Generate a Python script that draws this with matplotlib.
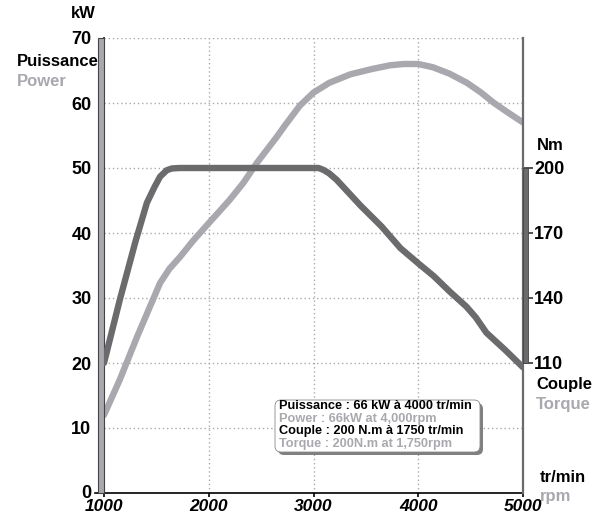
import matplotlib
matplotlib.use("Agg")
import matplotlib.pyplot as plt
from matplotlib.patches import Rectangle, FancyBboxPatch
from matplotlib.transforms import blended_transform_factory, ScaledTranslation

# Engine curves
power_rpm = [1000, 1150, 1315, 1535, 1625, 1725, 1850, 2010, 2100, 2200, 2330,
             2460, 2555, 2650, 2730, 2870, 3000, 3150, 3350, 3550, 3730, 3860,
             4000, 4140, 4300, 4465, 4600, 4715, 4850, 5000]
power_kw = [12, 17.4, 24, 32.3, 34.5, 36.3, 38.8, 41.7, 43.3, 45.1, 47.7,
            50.8, 52.8, 54.8, 56.6, 59.6, 61.6, 63.1, 64.4, 65.2, 65.8, 66,
            66, 65.5, 64.5, 63.1, 61.6, 60.1, 58.6, 57]

torque_rpm = [1000, 1150, 1300, 1410, 1480, 1535, 1600, 1650, 1725, 3050, 3100,
              3150, 3220, 3450, 3650, 3830, 4000, 4150, 4300, 4460, 4550, 4650,
              4830, 5000]
torque_nm = [110, 139, 166, 184, 191, 196, 199, 199.8, 200, 200, 199,
             197.5, 194.6, 182.6, 173, 163, 156, 150, 143, 136, 131, 124,
             116, 108]

rpm_ticks = [1000, 2000, 3000, 4000, 5000]
kw_ticks = [0, 10, 20, 30, 40, 50, 60, 70]
nm_ticks = [110, 140, 170, 200]

legend_lines = [
    ("Puissance : 66 kW à 4000 tr/min", "black"),
    ("Power : 66kW at 4,000rpm", "#a9a8ae"),
    ("Couple : 200 N.m à 1750 tr/min", "black"),
    ("Torque : 200N.m at 1,750rpm", "#a9a8ae"),
]

POWER_C = "#a9a8ae"
TORQUE_C = "#6b6a6d"
FONT = "Liberation Sans"

W, H = 608, 517
fig = plt.figure(figsize=(W / 100, H / 100), dpi=100)
fig.patch.set_facecolor("white")

left, right, bottom, top = 104, 523, 493, 38
ax = fig.add_axes([left / W, 1 - bottom / H, (right - left) / W, (bottom - top) / H])
ax.set_xlim(1000, 5000)
ax.set_ylim(0, 70)

# grid
for y in kw_ticks[1:]:
    ax.axhline(y, color="#aaaaaa", lw=1, ls=(0, (1, 2)), zorder=1)
for x in rpm_ticks[1:-1]:
    ax.axvline(x, color="#aaaaaa", lw=1, ls=(0, (1, 2)), zorder=1)

# torque axis: Nm = 3 * kW + 50
axr = ax.twinx()
axr.set_ylim(50, 260)
axr.set_yticks(nm_ticks)
axr.set_yticklabels([str(v) for v in nm_ticks], fontfamily=FONT,
                    fontweight="bold", fontsize=13)
axr.tick_params(axis="y", direction="out", length=7, width=1.2, pad=1,
                color="#333333")

ax.plot(power_rpm, power_kw, color=POWER_C, lw=4.6, solid_capstyle="round",
        solid_joinstyle="round", zorder=3)
axr.plot(torque_rpm, torque_nm, color=TORQUE_C, lw=4.6, solid_capstyle="round",
         solid_joinstyle="round", zorder=3)

# spines
for a in (ax, axr):
    a.spines["top"].set_visible(False)
    a.patch.set_visible(False)
ax.spines["left"].set_color("black")
ax.spines["left"].set_linewidth(1.2)
ax.spines["bottom"].set_color("black")
ax.spines["bottom"].set_linewidth(1.2)
axr.spines["right"].set_color("#6b6a6d")
axr.spines["right"].set_linewidth(1.6)
for s in ("left", "bottom"):
    axr.spines[s].set_visible(False)
ax.spines["right"].set_visible(False)

ax.set_yticks(kw_ticks)
ax.set_yticklabels([str(v) for v in kw_ticks], fontfamily=FONT,
                   fontweight="bold", fontsize=13)
ax.tick_params(axis="y", length=0, pad=9)
# lift the zero label slightly so it clears the rpm labels
zero_lbl = ax.get_yticklabels()[0]
zero_lbl.set_transform(zero_lbl.get_transform()
                       + ScaledTranslation(0, 2 / 100, fig.dpi_scale_trans))
ax.set_xticks(rpm_ticks)
ax.set_xticklabels([str(v) for v in rpm_ticks], fontfamily=FONT,
                   fontweight="bold", fontstyle="italic", fontsize=12.5)
ax.tick_params(axis="x", length=3, width=1.2, pad=1.5, color="black")

# side bars
tl = blended_transform_factory(ax.transAxes, ax.transData)
ax.add_patch(Rectangle((-0.0145, 0), 0.0135, 70, transform=tl, facecolor=POWER_C,
                       edgecolor="#444444", lw=0.8, clip_on=False, zorder=4))
ax.plot([-0.022, 0], [0, 0], transform=tl, color="black", lw=1.2, clip_on=False)
tr = blended_transform_factory(axr.transAxes, axr.transData)
axr.add_patch(Rectangle((1.0, 110), 0.013, 90, transform=tr, facecolor=TORQUE_C,
                        edgecolor="#444444", lw=0.6, clip_on=False, zorder=4))

# overlay in pixel coordinates for labels and info box
ov = fig.add_axes([0, 0, 1, 1])
ov.set_xlim(0, W)
ov.set_ylim(H, 0)
ov.axis("off")

def label(x, y, s, color="black", size=12, ha="left"):
    ov.text(x, y, s, color=color, fontsize=size, fontweight="bold",
            fontfamily=FONT, ha=ha, va="center")

label(83, 13, "kW", ha="center")
label(17, 62, "Puissance")
label(17, 81, "Power", color=POWER_C)
label(537, 146, "Nm")
label(536, 384, "Couple")
label(536, 405, "Torque", color=POWER_C)
label(540, 477, "tr/min")
label(540, 496, "rpm", color=POWER_C)

ov.add_patch(FancyBboxPatch((278, 403), 205, 52,
                            boxstyle="round,pad=0,rounding_size=6",
                            facecolor="#555555", edgecolor="none", alpha=0.75))
ov.add_patch(FancyBboxPatch((275, 400), 205, 52,
                            boxstyle="round,pad=0,rounding_size=6",
                            facecolor="white", edgecolor="#888888", lw=0.6))
for i, (s, c) in enumerate(legend_lines):
    ov.text(279, 406 + i * 12.6, s, color=c, fontsize=9.2, fontweight="bold",
            fontfamily=FONT, ha="left", va="center")

fig.savefig("out.png", dpi=100)
